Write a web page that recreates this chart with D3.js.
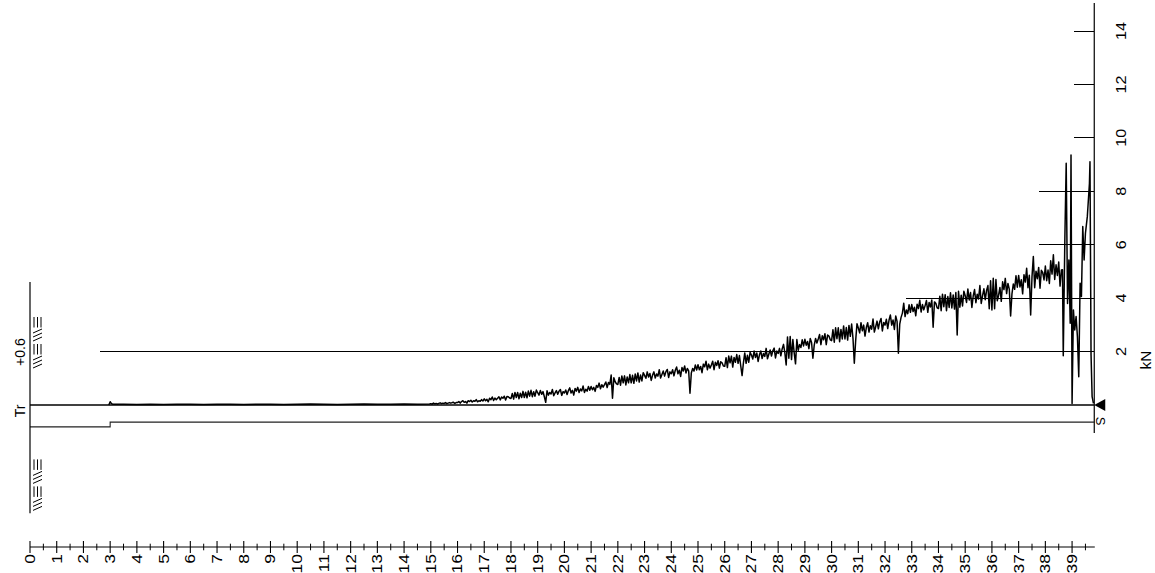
<!DOCTYPE html>
<html>
<head>
<meta charset="utf-8">
<script src="https://cdn.jsdelivr.net/npm/d3@7"></script>
<style>
  html, body { margin: 0; background: #fff; }
  svg { display: block; }
  text { font-family: "Liberation Sans", Arial, sans-serif; fill: #000; }
</style>
</head>
<body>
<svg id="chart" width="1155" height="573"></svg>
<script>
// ---- depth axis (m) ----
const depthTicks = [0,1,2,3,4,5,6,7,8,9,10,11,12,13,14,15,16,17,18,19,20,
                    21,22,23,24,25,26,27,28,29,30,31,32,33,34,35,36,37,38,39];
const depthEnd = 39.83;          // end of the log

// ---- force axis (kN) ----
const forceTicks = [2, 4, 6, 8, 10, 12, 14];
const forceGridFrom = [2.62, 32.77, 37.75, 37.75, 39.06, 39.06, 39.06]; // depth where each reference line starts

// ---- force trace: shallow part ----
const headDepth = [2.95, 3.0, 3.05, 3.1, 3.5, 4.0, 4.5, 5.0, 5.5, 6.0, 6.5, 7.0, 7.5, 8.0, 8.5,
                   9.0, 9.5, 10.0, 10.5, 11.0, 11.5, 12.0, 12.5, 13.0, 13.5, 14.0, 14.5, 14.95];
const headForce = [0.0, 0.12, 0.05, 0.03, 0.03, 0.02, 0.03, 0.02, 0.03, 0.03, 0.02, 0.03, 0.03, 0.02, 0.03,
                   0.03, 0.02, 0.03, 0.04, 0.03, 0.02, 0.03, 0.04, 0.03, 0.03, 0.04, 0.03, 0.04];

// ---- force trace: main record, sampled every 5 cm from 15.00 m ----
const traceStart = 15.0;
const traceStep = 0.05;
const traceForce = [
  // 15 m
  0.05,0.03,0.07,0.04,0.06,0.03,0.06,0.08,0.05,0.07,0.06,0.09,0.05,0.07,0.09,0.07,0.09,0.10,0.06,0.09,
  // 16 m
  0.09,0.13,0.07,0.13,0.16,0.10,0.13,0.07,0.16,0.13,0.18,0.11,0.16,0.14,0.20,0.12,0.16,0.14,0.20,0.15,
  // 17 m
  0.23,0.16,0.21,0.12,0.25,0.20,0.30,0.17,0.26,0.20,0.25,0.31,0.19,0.30,0.25,0.33,0.19,0.32,0.31,0.26,
  // 18 m
  0.24,0.43,0.22,0.47,0.28,0.47,0.23,0.44,0.28,0.51,0.28,0.48,0.27,0.52,0.33,0.55,0.31,0.50,0.33,0.56,
  // 19 m
  0.46,0.37,0.54,0.40,0.50,0.31,0.10,0.53,0.37,0.47,0.41,0.58,0.35,0.45,0.54,0.40,0.52,0.58,0.36,0.50,
  // 20 m
  0.45,0.56,0.39,0.54,0.64,0.45,0.55,0.37,0.62,0.52,0.66,0.47,0.60,0.53,0.71,0.47,0.59,0.52,0.69,0.55,
  // 21 m
  0.69,0.57,0.66,0.51,0.73,0.66,0.82,0.61,0.76,0.67,0.76,0.86,0.65,0.84,0.77,1.12,0.25,1.02,0.87,0.79,
  // 22 m
  0.77,1.03,0.74,1.09,0.83,1.09,0.75,1.05,0.83,1.14,0.83,1.11,0.81,1.16,0.90,1.20,0.86,1.12,0.90,1.21,
  // 23 m
  1.11,1.00,1.24,1.05,1.18,0.92,1.12,1.24,1.01,1.16,1.08,1.32,1.01,1.14,1.27,1.08,1.25,1.33,1.03,1.24,
  // 24 m
  1.17,1.32,1.09,1.30,1.42,1.17,1.30,1.07,1.40,1.27,1.46,1.20,1.37,1.28,0.44,1.20,1.37,1.27,1.50,1.31,
  // 25 m
  1.51,1.32,1.44,1.21,1.53,1.43,1.64,1.32,1.53,1.38,1.50,1.64,1.32,1.60,1.48,1.66,1.38,1.62,1.58,1.46,
  // 26 m
  1.45,1.77,1.40,1.83,1.58,1.83,1.42,1.78,1.60,1.89,1.56,1.85,1.46,1.10,1.58,1.95,1.56,1.86,1.60,1.97,
  // 27 m
  1.87,1.72,2.02,1.78,1.95,1.63,1.88,2.02,1.74,1.93,1.82,2.12,1.73,1.90,2.06,1.83,2.03,2.13,1.76,2.02,
  // 28 m
  1.93,2.12,1.84,2.10,2.27,1.96,1.50,2.55,1.75,2.56,1.70,2.45,1.95,1.54,2.45,2.05,2.26,2.15,2.44,2.21,
  // 29 m
  2.46,2.24,2.38,2.11,2.49,2.34,1.75,2.24,2.49,2.32,2.47,2.64,2.26,2.59,2.44,2.67,2.26,2.62,2.58,2.44,
  // 30 m
  2.41,2.82,2.35,2.89,2.48,2.89,2.37,2.83,2.47,2.96,2.47,2.90,2.43,2.98,2.57,3.03,2.50,1.56,2.40,3.04,
  // 31 m
  2.88,2.70,3.08,2.78,2.99,2.58,2.90,3.08,2.73,2.97,2.84,3.22,2.73,2.93,3.14,2.85,3.11,3.24,2.77,3.09,
  // 32 m
  2.99,3.21,2.86,3.18,3.37,2.99,3.18,2.83,3.33,3.13,1.94,3.03,3.28,3.44,3.81,3.31,3.56,3.42,3.75,3.47,
  // 33 m
  3.76,3.50,3.66,3.34,3.77,3.61,3.92,3.48,3.76,3.56,3.72,3.91,3.47,3.84,3.67,3.93,2.91,3.86,3.81,3.64,
  // 34 m
  3.61,4.07,3.53,4.15,3.68,4.13,3.53,4.06,3.65,4.20,3.63,4.12,3.59,4.21,2.62,4.26,3.66,4.11,3.71,4.26,
  // 35 m
  4.09,3.84,4.34,3.93,4.21,3.65,4.08,4.32,3.83,4.15,3.97,4.47,3.80,4.09,4.35,3.94,4.29,4.47,3.60,4.65,
  // 36 m
  3.56,4.74,3.60,4.70,3.90,4.11,4.40,3.88,4.61,4.32,4.74,4.17,4.55,4.34,3.33,4.16,4.53,4.33,4.84,4.41,
  // 37 m
  4.85,4.42,4.69,4.16,4.88,4.60,5.12,4.39,4.86,3.37,4.80,5.56,4.39,5.01,4.73,5.15,4.37,5.04,4.96,4.68,
  // 38 m
  5.20,4.65,5.05,4.55,5.40,4.90,5.62,4.70,5.25,4.85,5.35,4.45,5.05
];

// ---- force trace: final metre with refusal peaks ----
const tailDepth = [38.64, 38.67, 38.73, 38.78, 38.83, 38.88, 38.93, 38.96, 39.00, 39.05, 39.10, 39.15,
                   39.20, 39.25, 39.30, 39.35, 39.40, 39.45, 39.50, 39.57, 39.65, 39.67, 39.71, 39.75, 39.80];
const tailForce = [5.06, 1.84, 6.24, 9.05, 3.80, 5.43, 3.06, 9.36, 0.06, 3.56, 2.81, 3.31,
                   2.56, 1.06, 4.56, 4.06, 6.68, 5.43, 6.43, 7.05, 8.30, 9.11, 1.87, 0.31, 0.06];

// ---- casing outline below the baseline (kN units of the same scale) ----
const casingDepth = [0, 3.0, 3.0, depthEnd];
const casingLevel = [-0.82, -0.82, -0.64, -0.64];

// ---- geometry ----
const svg = d3.select("#chart");
const x = d3.scaleLinear().domain([0, 40]).range([30, 30 + 40 * 26.72]);
const y = d3.scaleLinear().domain([0, 14]).range([405, 31]);
const axisY = 547;
const xEnd = x(depthEnd);

// assemble the full trace
const trace = [];
headDepth.forEach((d, i) => trace.push([d, headForce[i]]));
traceForce.forEach((v, i) => trace.push([traceStart + i * traceStep, v]));
tailDepth.forEach((d, i) => trace.push([d, tailForce[i]]));

// force reference lines
svg.append("g").selectAll("line").data(forceTicks).join("line")
  .attr("x1", (v, i) => x(forceGridFrom[i])).attr("x2", xEnd)
  .attr("y1", v => y(v)).attr("y2", v => y(v))
  .attr("stroke", "#000").attr("stroke-width", 1).attr("shape-rendering", "crispEdges");

// force labels
svg.append("g").selectAll("text").data(forceTicks).join("text")
  .attr("transform", v => `translate(1121,${y(v)}) rotate(-90) scale(1.15,1)`)
  .attr("text-anchor", "middle").attr("dy", "0.35em")
  .attr("font-size", 14).text(v => v);

svg.append("text")
  .attr("transform", `translate(1146,${y(1.68)}) rotate(-90) scale(1.1,1)`)
  .attr("text-anchor", "middle").attr("dy", "0.35em")
  .attr("font-size", 14).text("kN");

// right axis line
svg.append("line")
  .attr("x1", xEnd).attr("x2", xEnd).attr("y1", y(15.05)).attr("y2", y(-1.05))
  .attr("stroke", "#000").attr("stroke-width", 1.2);

// baseline and casing
svg.append("line")
  .attr("x1", x(0)).attr("x2", xEnd).attr("y1", y(0)).attr("y2", y(0))
  .attr("stroke", "#000").attr("stroke-width", 1.4);

svg.append("path")
  .attr("d", d3.line().x(d => x(d)).y((d, i) => y(casingLevel[i]))(casingDepth))
  .attr("fill", "none").attr("stroke", "#222").attr("stroke-width", 1.1);

// left boundary line
svg.append("line")
  .attr("x1", x(0)).attr("x2", x(0)).attr("y1", y(4.6)).attr("y2", y(-4.05))
  .attr("stroke", "#000").attr("stroke-width", 1.2);

// soil hatch blocks
function hatch(top) {
  const g = svg.append("g").attr("stroke", "#000").attr("stroke-width", 1).attr("fill", "none");
  const h = 13.5;
  for (let k = 0; k < 4; k++) {
    const y0 = top + k * h;
    if (k % 2 === 0) {
      [34, 37.5, 41].forEach(xx => g.append("line").attr("x1", xx).attr("x2", xx).attr("y1", y0 + 1.5).attr("y2", y0 + h - 1.5));
    } else {
      [0, 4, 8].forEach(o => g.append("line").attr("x1", 33).attr("x2", 42).attr("y1", y0 + o + 4).attr("y2", y0 + o));
    }
  }
}
hatch(y(3.35));
hatch(y(-1.98));

// side texts
svg.append("text").attr("transform", `translate(20,${y(-0.22)}) rotate(-90)`)
  .attr("text-anchor", "middle").attr("dy", "0.35em").attr("font-size", 14).text("Tr");
svg.append("text").attr("transform", `translate(20,${y(1.98)}) rotate(-90)`)
  .attr("text-anchor", "middle").attr("dy", "0.35em").attr("font-size", 14).text("+0.6");

// the trace
svg.append("path")
  .attr("d", d3.line().x(d => x(d[0])).y(d => y(d[1])).curve(d3.curveLinear)(trace))
  .attr("fill", "none").attr("stroke", "#000").attr("stroke-width", 1.5).attr("stroke-linejoin", "round");

// end markers
const ex = xEnd;
svg.append("path")
  .attr("d", `M${ex},${y(0)} L${ex + 11},${y(0) - 6} L${ex + 11},${y(0) + 6} Z`)
  .attr("fill", "#000");
svg.append("text").attr("transform", `translate(${ex + 6},${y(-0.6)}) rotate(90)`)
  .attr("text-anchor", "middle").attr("dy", "0.35em").attr("font-size", 13).text("S");

// depth axis
svg.append("line").attr("x1", x(0)).attr("x2", x(39.85)).attr("y1", axisY).attr("y2", axisY)
  .attr("stroke", "#000").attr("stroke-width", 1.2);
const minorTicks = depthTicks.map(d => d + 0.5);
svg.append("g").selectAll("line").data(minorTicks).join("line")
  .attr("x1", d => x(d)).attr("x2", d => x(d)).attr("y1", axisY - 3.3).attr("y2", axisY + 3.3)
  .attr("stroke", "#000").attr("stroke-width", 1);
svg.append("g").selectAll("line").data(depthTicks).join("line")
  .attr("x1", d => x(d)).attr("x2", d => x(d)).attr("y1", axisY - 6).attr("y2", axisY + 6)
  .attr("stroke", "#000").attr("stroke-width", 1.1);
svg.append("g").selectAll("text").data(depthTicks).join("text")
  .attr("transform", d => `translate(${x(d)},${axisY + 7}) rotate(-90) scale(1.25,1)`)
  .attr("text-anchor", "end").attr("dy", "0.35em").attr("font-size", 14).text(d => d);
</script>
</body>
</html>
